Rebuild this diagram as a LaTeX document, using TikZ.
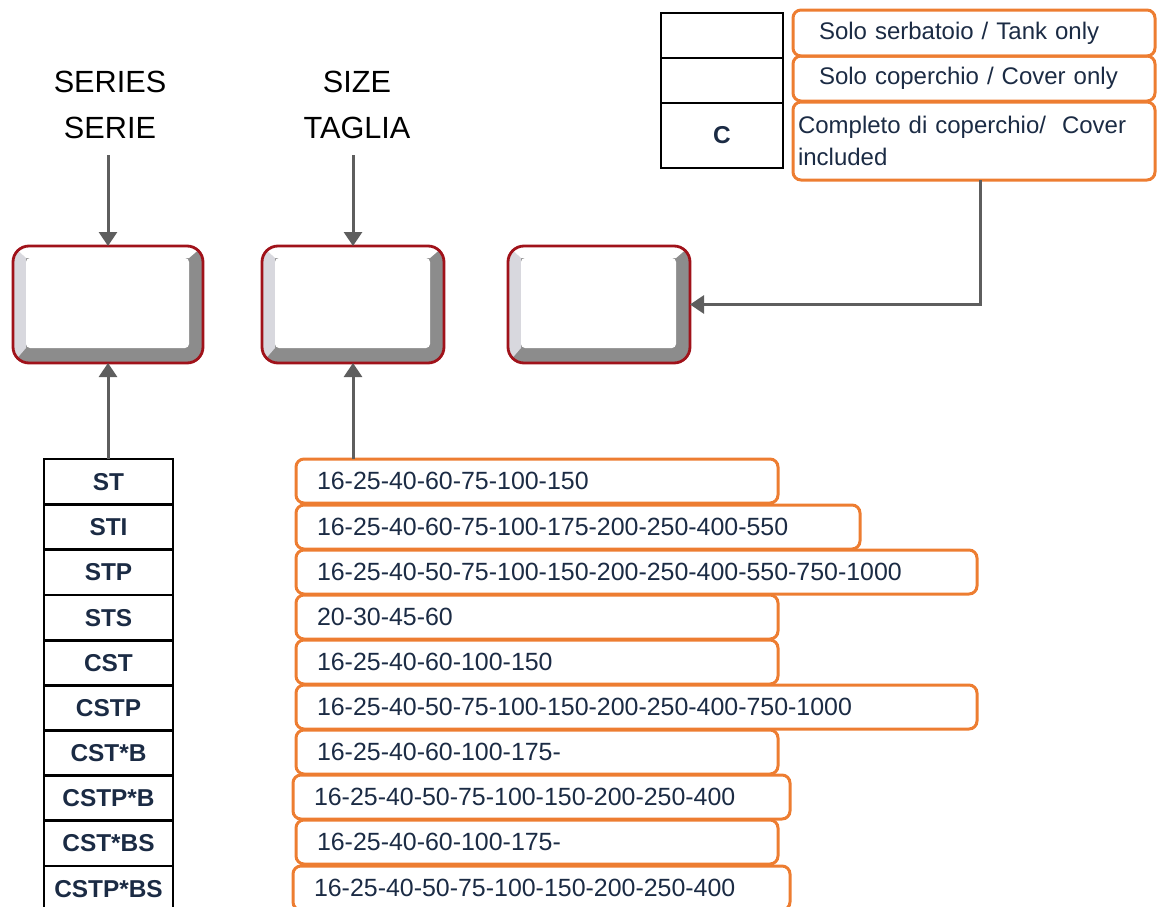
\documentclass[tikz,border=0pt]{standalone}
\usepackage{fontspec}
\setmainfont{Liberation Sans}
\usetikzlibrary{arrows.meta,positioning,calc}

\definecolor{txtnavy}{HTML}{1B2B44}
\definecolor{boxorange}{HTML}{ED7D31}
\definecolor{boxred}{HTML}{A0121A}
\definecolor{linkgray}{HTML}{5E5E5E}
\definecolor{bevellight}{HTML}{D8D8DE}
\definecolor{beveldark}{HTML}{8C8C8C}

% one pixel of the reference
\newcommand{\pxu}{0.75pt}

\tikzset{
  link/.style={draw=linkgray, line width=3*\pxu, -{Triangle[length=14*\pxu,width=18*\pxu]}},
  cell/.style={draw=black, line width=2*\pxu, outer sep=0pt, inner sep=0pt, anchor=north west,
    font=\bfseries\fontsize{18.3}{22}\selectfont, text=txtnavy},
  sizebox/.style={draw=boxorange, line width=3*\pxu, rounded corners=8*\pxu, anchor=north west,
    outer sep=0pt, inner xsep=21*\pxu, inner ysep=0pt, align=left,
    font=\fontsize{18.7}{24}\selectfont, text=txtnavy},
  heading/.style={align=center, font=\fontsize{23}{34}\selectfont},
  codebox/.style={draw=boxred, line width=2.8*\pxu, rounded corners=16*\pxu,
    minimum height=117*\pxu, anchor=north west, outer sep=0pt,
    path picture={
      \path (path picture bounding box.south west) coordinate (bsw)
            (path picture bounding box.north east) coordinate (bne);
      \fill[beveldark, sharp corners] (bsw) rectangle (bne);
      \fill[bevellight, sharp corners] (bsw) -- ($(bsw)+(13,-15)$) -- ($(bsw |- bne)+(13,12)$)
        -- (bsw |- bne) -- cycle;
      \fill[white, sharp corners] (bsw |- bne) -- (bne) -- ($(bne)+(-14,12)$)
        -- ($(bsw |- bne)+(13,12)$) -- cycle;
      \fill[white, rounded corners=4*\pxu] ($(bsw)+(13,-15)$) rectangle ($(bne)+(-14,12)$);
    }},
}

\begin{document}
\begin{tikzpicture}[x=0.75pt, y=-0.75pt]
  \clip (0,0) rectangle (1158,907);

  % Headings
  \node[heading] (serieshead) at (110,105) {SERIES\\SERIE};
  \node[heading] (sizehead) at (357,105) {SIZE\\TAGLIA};

  % Code boxes
  \node[codebox, minimum width=190*\pxu] (b1) at (13,246) {};
  \node[codebox, minimum width=182*\pxu] (b2) at (262,246) {};
  \node[codebox, minimum width=182*\pxu] (b3) at (508,246) {};

  % Cover table
  \node[cell, minimum width=122*\pxu, minimum height=45*\pxu] (c1) at (661,13) {};
  \node[cell, minimum width=122*\pxu, minimum height=45*\pxu] (c2) at (661,58) {};
  \node[cell, minimum width=122*\pxu, minimum height=65*\pxu] (c3) at (661,103) {C};

  \node[sizebox, font=\fontsize{18}{24}\selectfont, inner xsep=26*\pxu, text width=232.5pt,
    minimum height=46*\pxu] (o1) at (793,10) {Solo serbatoio / Tank only};
  \node[sizebox, font=\fontsize{18}{24}\selectfont, inner xsep=26*\pxu, text width=232.5pt,
    minimum height=45*\pxu] (o2) at (793,56) {Solo coperchio / Cover only};
  \node[sizebox, font=\fontsize{18}{24}\selectfont, inner xsep=5*\pxu, text width=264pt,
    minimum height=78*\pxu] (o3) at (793,102) {Completo di coperchio/~ Cover\\included};

  % Series table
  \foreach \n/\ty/\code in {1/459/ST, 2/504/STI, 3/549/STP, 4/595/STS, 5/640/CST,
      6/685/CSTP, 7/730/CST*B, 8/775/CSTP*B, 9/820/CST*BS, 10/866/CSTP*BS}
    \node[cell, minimum width=129*\pxu, minimum height=46*\pxu] (s\n) at (44,\ty) {\code};

  % Size boxes
  \foreach \n/\ty/\xl/\w/\sizes in {
      1/459/296/482/16-25-40-60-75-100-150,
      2/505/296/564/16-25-40-60-75-100-175-200-250-400-550,
      3/550/296/681/16-25-40-50-75-100-150-200-250-400-550-750-1000,
      4/595/296/482/20-30-45-60,
      5/640/296/482/16-25-40-60-100-150,
      6/685/296/681/16-25-40-50-75-100-150-200-250-400-750-1000,
      7/730/296/482/16-25-40-60-100-175-,
      8/775/293/497/16-25-40-50-75-100-150-200-250-400,
      9/820/296/482/16-25-40-60-100-175-,
      10/866/293/497/16-25-40-50-75-100-150-200-250-400} {
    \pgfmathsetmacro\tw{(\w-42)*0.75}
    \node[sizebox, text width=\tw pt, minimum height=44*\pxu] (sz\n) at (\xl,\ty) {\sizes};
  }

  % Connectors
  \draw[link, shorten <=12*\pxu] (serieshead.south -| b1.north) -- (b1.north);
  \draw[link, shorten <=12*\pxu] (sizehead.south -| b2.north) -- (b2.north);
  \draw[link] (s1.north -| b1.south) -- (b1.south);
  \draw[link] (sz1.north -| b2.south) -- (b2.south);
  \draw[link] ([xshift=6*\pxu]o3.south) |- (b3.east);
\end{tikzpicture}
\end{document}
